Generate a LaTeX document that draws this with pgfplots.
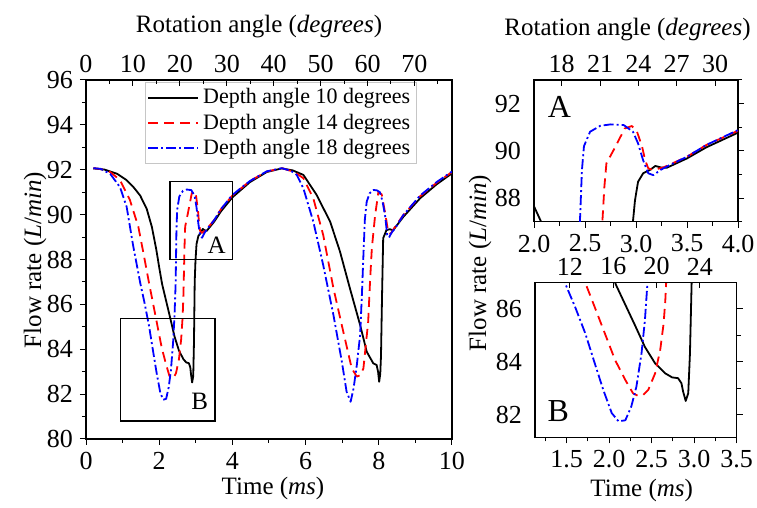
\documentclass[border=0pt]{standalone}
\usepackage{fontspec}
\setmainfont{Liberation Serif}
\usepackage{pgfplots}
\pgfplotsset{compat=1.18}
\usepackage{pgfplotstable}

% depth angle 10 degrees
\pgfplotstableread{
t v
0.20 92.06
0.50 92.01
0.85 91.82
1.10 91.55
1.30 91.22
1.48 90.85
1.66 90.25
1.80 89.45
1.92 88.45
2.00 87.65
2.08 86.90
2.19 86.15
2.30 85.40
2.42 84.56
2.54 83.94
2.66 83.56
2.74 83.41
2.81 83.38
2.85 83.19
2.87 82.87
2.90 82.52
2.93 82.81
2.95 84.30
2.97 87.00
2.99 87.90
3.02 88.69
3.07 89.05
3.14 89.20
3.19 89.36
3.24 89.30
3.30 89.28
3.50 89.68
3.69 90.15
4.00 90.77
4.48 91.45
4.94 91.90
5.35 92.06
5.65 91.97
5.94 91.77
6.30 90.88
6.67 89.69
6.94 88.35
7.21 86.72
7.49 85.08
7.67 83.89
7.85 83.37
7.94 83.30
7.98 83.00
8.01 82.55
8.04 82.90
8.06 83.70
8.09 86.50
8.12 88.95
8.21 89.31
8.30 89.35
8.39 89.30
8.67 89.90
9.13 90.73
9.58 91.35
10.00 91.84
}\dataten

% depth angle 14 degrees
\pgfplotstableread{
t v
0.20 92.07
0.40 92.03
0.66 91.90
0.93 91.54
1.20 90.65
1.43 89.46
1.57 88.28
1.72 86.97
1.83 86.06
1.95 85.06
2.07 84.06
2.19 83.31
2.28 82.81
2.34 82.71
2.40 82.75
2.46 82.94
2.54 83.56
2.60 84.44
2.64 85.44
2.66 86.31
2.67 86.97
2.69 88.48
2.71 89.47
2.78 90.03
2.84 90.53
2.89 90.95
2.96 91.05
3.01 90.81
3.06 90.17
3.09 89.60
3.12 89.26
3.17 89.19
3.27 89.30
3.50 89.75
3.69 90.25
4.00 90.85
4.48 91.50
4.94 91.92
5.35 92.07
5.70 91.90
5.94 91.62
6.21 90.73
6.48 89.10
6.76 86.72
7.03 84.78
7.26 83.15
7.40 82.78
7.50 82.85
7.58 83.15
7.71 85.23
7.76 87.00
7.81 88.50
7.90 89.98
7.99 91.02
8.08 90.90
8.17 90.10
8.26 89.20
8.33 89.15
8.40 89.35
8.67 89.98
9.13 90.82
9.58 91.42
10.00 91.90
}\datafourteen

% depth angle 18 degrees
\pgfplotstableread{
t v
0.20 92.07
0.40 92.04
0.66 91.82
0.93 91.22
1.11 90.35
1.29 88.60
1.48 86.97
1.60 86.06
1.72 85.06
1.83 83.94
1.93 82.94
2.03 82.06
2.11 81.75
2.19 81.79
2.26 82.31
2.32 83.06
2.38 84.31
2.42 85.56
2.45 86.97
2.47 89.19
2.49 90.20
2.55 90.81
2.65 91.06
2.75 91.12
2.88 91.09
2.97 90.81
3.02 90.32
3.07 89.60
3.12 89.05
3.17 88.97
3.24 89.19
3.33 89.40
3.50 89.75
3.69 90.25
4.00 90.88
4.48 91.50
4.94 91.93
5.35 92.07
5.60 91.95
5.76 91.77
5.94 91.17
6.21 89.69
6.48 87.76
6.76 85.53
6.99 83.45
7.12 82.11
7.23 81.66
7.31 82.25
7.40 83.30
7.49 84.64
7.54 86.50
7.58 88.20
7.62 89.80
7.67 90.58
7.75 90.95
7.85 91.10
7.95 91.08
8.03 91.00
8.10 90.60
8.17 89.98
8.23 89.10
8.28 88.98
8.35 89.20
8.45 89.40
8.67 89.98
9.13 90.85
9.58 91.45
10.00 91.92
}\dataeighteen

\newcommand{\tickfont}{\fontsize{13}{15}\selectfont}
\newcommand{\labfont}{\fontsize{12.5}{15}\selectfont}

\pgfplotsset{
  base/.style={scale only axis, anchor=south west,
    tick label style={font=\tickfont},
    /pgf/number format/assume math mode=true,
    major tick length=3pt, minor tick length=2pt,
    every tick/.style={black, line width=0.5pt},
    axis line style={line width=0.6pt}},
  s10/.style={black, line width=0.9pt, line join=round},
  s14/.style={red, line width=0.9pt, line join=round, dash pattern=on 5pt off 3pt},
  s18/.style={blue, line width=0.9pt, line join=round, dash pattern=on 5pt off 1.5pt on 1pt off 1.5pt},
  onedec/.style={xticklabel style={/pgf/number format/.cd, fixed, fixed zerofill, precision=1}},
  angleaxis/.style={base, axis x line*=top, axis y line=none, ymin=0, ymax=1, tick align=inside},
}

\begin{document}
\begin{tikzpicture}
\useasboundingbox (0,0) rectangle (378.5pt,254pt);

% main chart
\begin{axis}[base, at={(43pt,34.5pt)}, width=183pt, height=179.5pt,
  xmin=0, xmax=10, ymin=80, ymax=96,
  xtick={0,2,...,10}, minor xtick={1,3,...,9},
  ytick={80,82,...,96}, minor ytick={81,83,...,95},
  xtick pos=bottom, ytick pos=left, tick align=outside,
  legend cell align=left,
  legend image code/.code={\draw[#1] (0pt,0pt) -- (25pt,0pt);},
  legend style={at={(0.161,0.994)}, anchor=north west, draw=gray!45,
    font=\fontsize{11}{12}\selectfont, inner xsep=1pt, inner ysep=1pt,
    row sep=-0.5pt}]
\addplot[s10] table[x=t,y=v] {\dataten};
\addlegendentry{Depth angle 10 degrees}
\addplot[s14] table[x=t,y=v] {\datafourteen};
\addlegendentry{Depth angle 14 degrees}
\addplot[s18] table[x=t,y=v] {\dataeighteen};
\addlegendentry{Depth angle 18 degrees}
\draw[line width=0.7pt] (axis cs:2.3,88) rectangle (axis cs:4.0,91.47);
\draw[line width=0.7pt] (axis cs:0.95,80.8) rectangle (axis cs:3.52,85.38);
\node[font=\labfont] at (axis cs:3.57,88.65) {A};
\node[font=\labfont] at (axis cs:3.11,81.66) {B};
\end{axis}
\begin{axis}[angleaxis, at={(43pt,34.5pt)}, width=183pt, height=179.5pt,
  xmin=0, xmax=78, xtick={0,10,...,70}, minor xtick={5,15,...,75}]
\end{axis}

% inset A
\begin{axis}[base, onedec, at={(267pt,143.15pt)}, width=102pt, height=70.85pt,
  xmin=2, xmax=4, ymin=87, ymax=93,
  xtick={2,2.5,...,4}, minor xtick={2.25,2.75,3.25,3.75},
  ytick={88,90,92}, minor ytick={87,89,91,93},
  xtick pos=bottom, ytick pos=right, yticklabel pos=left, tick align=outside]
\addplot[s10] table[x=t,y=v] {\dataten};
\addplot[s14] table[x=t,y=v] {\datafourteen};
\addplot[s18] table[x=t,y=v] {\dataeighteen};
\node[font=\fontsize{16}{16}\selectfont] at (axis cs:2.25,91.86) {A};
\end{axis}
\begin{axis}[angleaxis, at={(267pt,143.15pt)}, width=102pt, height=70.85pt,
  xmin=15.83, xmax=31.8, xtick={18,21,...,30}]
\end{axis}

% inset B
\begin{axis}[base, onedec, at={(267.5pt,35.25pt)}, width=100.85pt, height=77.6pt,
  xmin=1.127, xmax=3.5, ymin=81.14, ymax=87,
  xtick={1.5,2,...,3.5}, minor xtick={1.25,1.75,2.25,2.75,3.25},
  ytick={82,84,86}, minor ytick={83,85},
  xtick pos=bottom, ytick pos=right, yticklabel pos=left, tick align=outside]
\addplot[s10] table[x=t,y=v] {\dataten};
\addplot[s14] table[x=t,y=v] {\datafourteen};
\addplot[s18] table[x=t,y=v] {\dataeighteen};
\node[font=\fontsize{16}{16}\selectfont] at (axis cs:1.40,82.12) {B};
\end{axis}
\begin{axis}[angleaxis, at={(267.5pt,35.25pt)}, width=100.85pt, height=77.6pt,
  xmin=8.77, xmax=27.39, xtick={12,16,20,24}]
\end{axis}

% axis titles
\node[font=\labfont] at (129.5pt,240.5pt) {Rotation angle (\textit{degrees})};
\node[font=\labfont] at (313.75pt,239pt) {Rotation angle (\textit{degrees})};
\node[font=\labfont, rotate=90] at (17.5pt,124pt) {Flow rate (\textit{L}/\textit{min})};
\node[font=\labfont, rotate=90] at (240pt,122.5pt) {Flow rate (\textit{L}/\textit{min})};
\node[font=\labfont] at (136.5pt,10pt) {Time (\textit{ms})};
\node[font=\labfont] at (320.85pt,9pt) {Time (\textit{ms})};
\end{tikzpicture}
\end{document}
